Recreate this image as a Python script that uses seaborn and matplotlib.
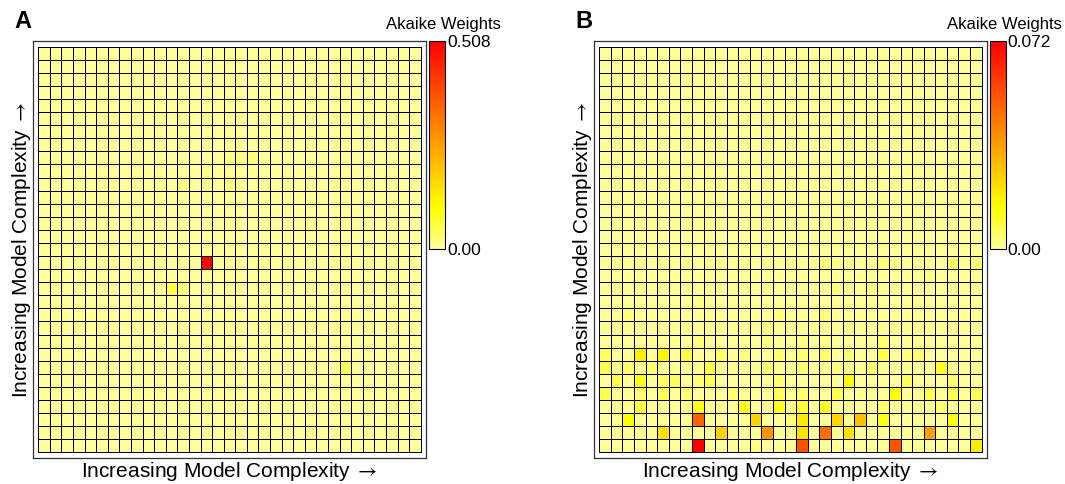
import numpy as np
import pandas as pd
import seaborn as sns
import matplotlib.pyplot as plt
from matplotlib.colors import LinearSegmentedColormap

# --- data: 33 x 31 grid of Akaike weights, mostly near zero ---
N_ROWS = 31
N_COLS = 33

# panel A: one dominant model, a few faint neighbours
A_BASE = 0.001
A_VMAX = 0.508
A_ROWS = [16, 18, 18, 8, 8, 8, 9, 10, 10, 24, 20, 23, 26, 29, 16, 25]
A_COLS = [14, 11, 12, 16, 17, 18, 14, 12, 16, 26, 3, 2, 8, 23, 18, 19]
A_VALS = [0.508, 0.060, 0.020, 0.015, 0.015, 0.020, 0.015, 0.018, 0.018,
          0.045, 0.006, 0.006, 0.005, 0.008, 0.005, 0.005]

# panel B: weight spread over the simplest rows
B_BASE = 0.0005
B_VMAX = 0.072
B_ROWS = [16, 16, 16, 16, 16, 16, 17, 18, 18, 19, 20, 20, 20, 21,
          22, 22, 22, 22, 22,
          23, 23, 23, 23, 23, 23, 23, 23, 23, 23, 23, 23, 23,
          24, 24, 24, 24, 24, 24, 24, 24, 24,
          25, 25, 25, 25, 25, 25, 25, 25, 25, 25,
          26, 26, 26, 26, 26, 26, 26, 26, 26, 26, 26, 26,
          27, 27, 27, 27, 27, 27, 27, 27,
          28, 28, 28, 28, 28, 28, 28, 28, 28,
          29, 29, 29, 29, 29, 29, 29,
          30, 30, 30, 30, 30]
B_COLS = [19, 20, 24, 25, 30, 32, 28, 20, 23, 8, 2, 15, 19, 14,
          8, 14, 17, 19, 24,
          0, 3, 5, 7, 10, 12, 15, 17, 19, 21, 24, 26, 27,
          0, 2, 4, 9, 14, 17, 20, 23, 29,
          1, 3, 5, 6, 8, 9, 15, 21, 26, 30,
          0, 3, 5, 7, 11, 15, 17, 20, 25, 28, 30, 32,
          3, 8, 12, 15, 17, 19, 24, 29,
          2, 8, 13, 16, 17, 20, 22, 24, 30,
          5, 10, 14, 17, 19, 21, 28,
          8, 13, 17, 25, 32]
B_VALS = [0.003, 0.002, 0.003, 0.002, 0.005, 0.004, 0.002, 0.003, 0.003, 0.002, 0.003, 0.003, 0.003, 0.002,
          0.003, 0.002, 0.002, 0.002, 0.004,
          0.006, 0.018, 0.016, 0.008, 0.005, 0.003, 0.005, 0.004, 0.005, 0.004, 0.008, 0.003, 0.004,
          0.007, 0.004, 0.004, 0.007, 0.004, 0.004, 0.002, 0.004, 0.011,
          0.007, 0.013, 0.006, 0.006, 0.004, 0.007, 0.005, 0.015, 0.006, 0.004,
          0.007, 0.004, 0.006, 0.004, 0.004, 0.006, 0.004, 0.007, 0.014, 0.007, 0.007, 0.006,
          0.008, 0.012, 0.012, 0.012, 0.010, 0.011, 0.004, 0.004,
          0.014, 0.050, 0.025, 0.003, 0.019, 0.024, 0.029, 0.013, 0.013,
          0.021, 0.025, 0.039, 0.021, 0.047, 0.021, 0.036,
          0.072, 0.003, 0.054, 0.053, 0.019]

# thin, long math arrow like the original figure
AXIS_TEXT = "Increasing Model Complexity $\\rightarrow$"

# reversed "heat" palette: pale yellow -> yellow -> orange -> red
heat = LinearSegmentedColormap.from_list(
    "heat_r",
    [(0.0, "#FFFF9C"), (0.2, "#FFFF00"), (0.4, "#FFBF00"),
     (0.6, "#FF8000"), (0.8, "#FF4000"), (1.0, "#FF0000")])


def build_grid(base, rows, cols, vals):
    grid = np.full((N_ROWS, N_COLS), base)
    grid[rows, cols] = vals
    return pd.DataFrame(grid)


def draw_panel(fig, left, cbar_left, data, vmax, top_label, letter):
    ax = fig.add_axes([left, 0.0531, 0.3684, 0.8628])
    cax = fig.add_axes([cbar_left, 0.4855, 0.0148, 0.4304])

    sns.heatmap(data, ax=ax, cbar_ax=cax, cmap=heat, vmin=0, vmax=vmax,
                linewidths=0.65, linecolor="black",
                xticklabels=False, yticklabels=False,
                cbar_kws={"ticks": [0, vmax]})

    # small white margin between grid and outer frame
    ax.set_xlim(-0.43, N_COLS + 0.43)
    ax.set_ylim(N_ROWS + 0.46, -0.46)
    for s in ax.spines.values():
        s.set_visible(True)
        s.set_color("#333333")
        s.set_linewidth(0.9)

    ax.set_xlabel(AXIS_TEXT, fontsize=15, labelpad=1.5)
    ax.set_ylabel(AXIS_TEXT, fontsize=15, labelpad=0.5)

    cbar = ax.collections[0].colorbar
    cbar.outline.set_linewidth(0.8)
    cbar.outline.set_edgecolor("black")
    cax.set_yticklabels(["0.00", top_label])
    cax.tick_params(length=0, pad=1.5, labelsize=12.5)
    cax.text(0.9, 1.08, "Akaike Weights", transform=cax.transAxes,
             ha="center", va="center", fontsize=12)

    fig.text(left - 0.0095, 0.955, letter, fontsize=17, fontweight="bold",
             ha="center", va="center")


sns.set_theme(style="white")
plt.rcParams["font.family"] = ["Liberation Sans", "DejaVu Sans"]
plt.rcParams["mathtext.fontset"] = "stixsans"
plt.rcParams["text.color"] = "black"
plt.rcParams["axes.labelcolor"] = "black"
plt.rcParams["ytick.color"] = "black"

fig = plt.figure(figsize=(10.65, 4.84), dpi=100)

draw_panel(fig, 0.0313, 0.4031, build_grid(A_BASE, A_ROWS, A_COLS, A_VALS),
           A_VMAX, "0.508", "A")
draw_panel(fig, 0.5580, 0.9296, build_grid(B_BASE, B_ROWS, B_COLS, B_VALS),
           B_VMAX, "0.072", "B")

fig.savefig("out.png", dpi=100)
